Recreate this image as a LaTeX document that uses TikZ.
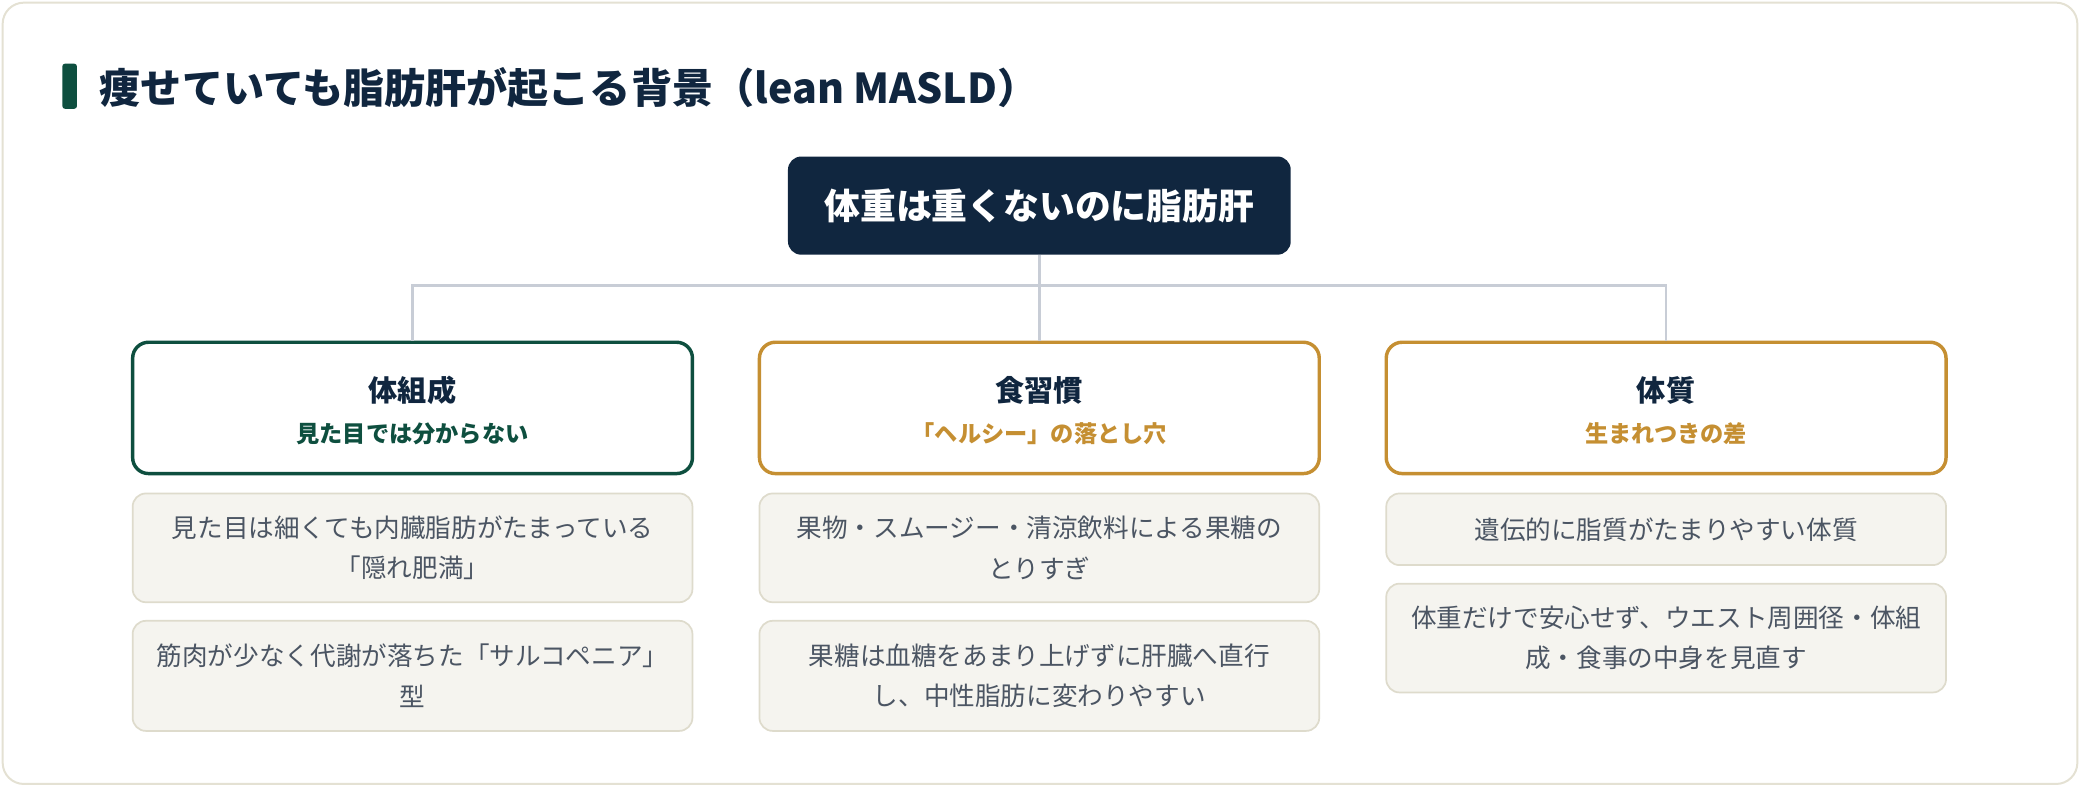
\documentclass[tikz,border=0pt]{standalone}
\usepackage{fontspec}
\setmainfont{Noto Sans CJK JP}
\usepackage{tikz}
\usetikzlibrary{positioning}
\usepackage{xcolor}
\definecolor{navy}{HTML}{10263F}
\definecolor{darkgreen}{HTML}{0E4F3F}
\definecolor{gold}{HTML}{C58F32}
\definecolor{linkgray}{HTML}{C8CDD6}
\definecolor{cardline}{HTML}{E4E1D3}
\definecolor{itemfill}{HTML}{F5F4EF}
\definecolor{itemline}{HTML}{DEDBCC}
\definecolor{itemtext}{HTML}{4B5563}

\begin{document}
\begin{tikzpicture}[x=1pt, y=-1pt,
        rootbox/.style={rectangle, fill=navy, text=white, rounded corners=10pt, minimum width=379pt, minimum height=74pt, font=\fontsize{27}{32}\selectfont\bfseries},
        catbox/.style={rectangle, draw=#1, line width=2.6pt, fill=white, rounded corners=12pt, minimum width=422pt, minimum height=99pt},
        cattitle/.style={font=\fontsize{22}{26}\selectfont\bfseries, text=navy, inner sep=0pt},
        catsub/.style={font=\fontsize{17.5}{21}\selectfont\bfseries, text=#1, inner sep=0pt},
        itembox/.style={rectangle, draw=itemline, line width=1.3pt, fill=itemfill, rounded corners=10pt, minimum width=422pt, minimum height=#1, align=center, text=itemtext, font=\fontsize{19.3}{30.5}\selectfont},
        link/.style={draw=linkgray, line width=2pt}
    ]
    \useasboundingbox (0,0) rectangle (1568,593);
    \draw[cardline, line width=1.5pt, fill=white, rounded corners=16pt] (2,2) rectangle (1566,591);

    % heading
    \node[fill=darkgreen, rounded corners=2pt, inner sep=0pt, minimum width=11pt, minimum height=34pt] (bar) at (52.5,65) {};
    \node[anchor=west, inner sep=0pt, text=navy, font=\fontsize{31}{36}\selectfont\bfseries] (title) at (75,66) {痩せていても脂肪肝が起こる背景（lean MASLD）};

    % root and categories
    \node[rootbox] (root) at (783.5,155) {体重は重くないのに脂肪肝};
    \node[catbox=darkgreen] (body) at (311,307.5) {};
    \node[catbox=gold] (diet) at (783.5,307.5) {};
    \node[catbox=gold] (nature) at (1256,307.5) {};
    \coordinate (fork) at (783.5,215);
    \draw[link] (root) -- (diet);
    \draw[link] (body.north) |- (fork) -| (nature.north);

    \node[cattitle] (bodyhead) at (311,294) {体組成};
    \node[catsub=darkgreen] (bodysub) at (311,327) {見た目では分からない};
    \node[cattitle] (diethead) at (783.5,294) {食習慣};
    \node[catsub=gold] (dietsub) at (783.5,327) {「ヘルシー」の落とし穴};
    \node[cattitle] (naturehead) at (1256,294) {体質};
    \node[catsub=gold] (naturesub) at (1256,327) {生まれつきの差};

    % items
    \node[itembox=82pt] (body1) at (311,413) {見た目は細くても内臓脂肪がたまっている\\「隠れ肥満」};
    \node[itembox=83pt] (body2) at (311,509.5) {筋肉が少なく代謝が落ちた「サルコペニア」\\型};
    \node[itembox=82pt] (diet1) at (783.5,413) {果物・スムージー・清涼飲料による果糖の\\とりすぎ};
    \node[itembox=83pt] (diet2) at (783.5,509.5) {果糖は血糖をあまり上げずに肝臓へ直行\\し、中性脂肪に変わりやすい};
    \node[itembox=54pt] (nature1) at (1256,399) {遺伝的に脂質がたまりやすい体質};
    \node[itembox=82pt] (nature2) at (1256,481) {体重だけで安心せず、ウエスト周囲径・体組\\成・食事の中身を見直す};
\end{tikzpicture}
\end{document}
